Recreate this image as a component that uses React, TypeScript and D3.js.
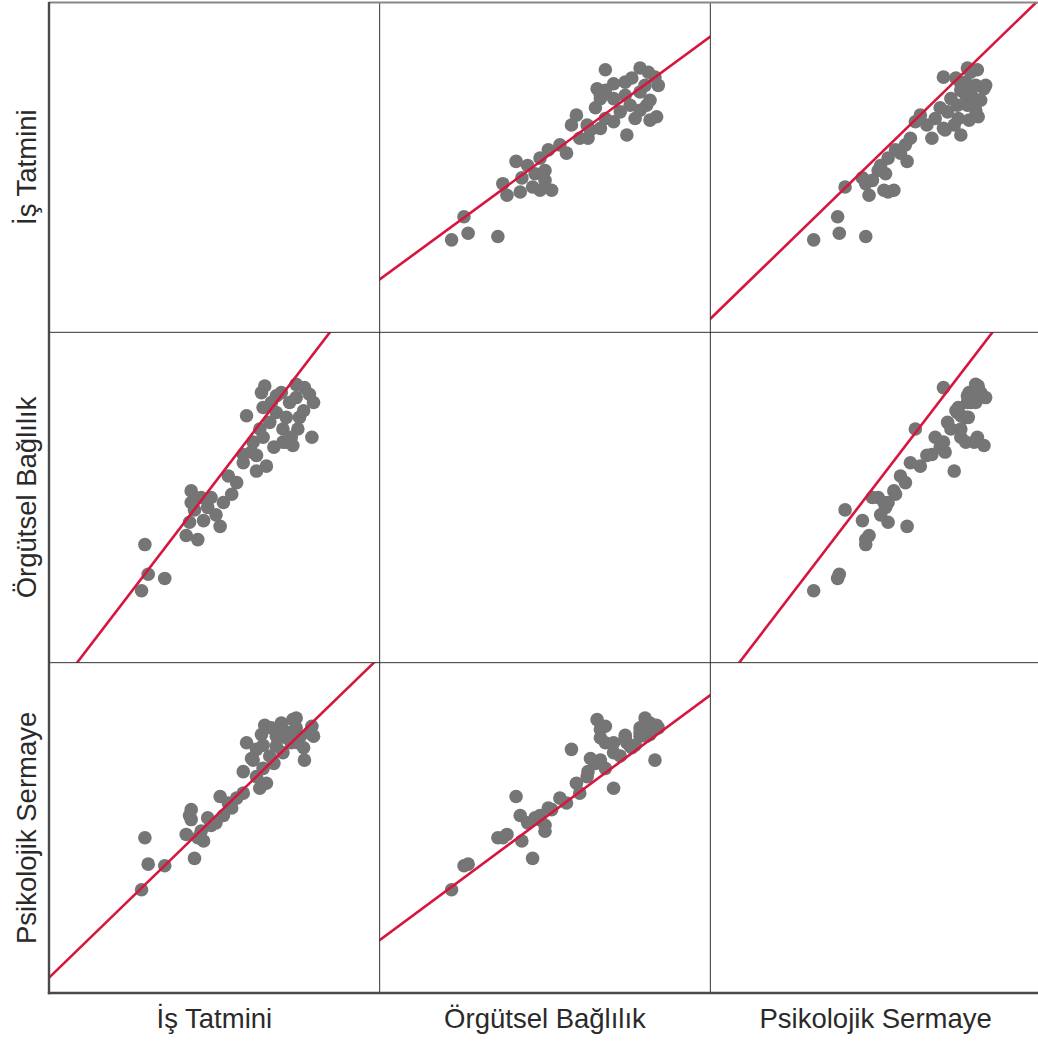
import React, { useEffect, useRef } from "react";
import * as d3 from "d3";

// Variables (one value per respondent, same order in every array)
const variables = ["İş Tatmini", "Örgütsel Bağlılık", "Psikolojik Sermaye"];

const isTatmini = [
  2.12, 2.2, 2.16, 2.4, 2.76, 2.8, 2.66, 2.72, 2.72, 2.92,
  3.07, 3.17, 3.21, 3.11, 3.35, 3.55, 3.51, 3.63, 3.35, 3.47,
  3.51, 3.39, 3.57, 3.61, 4.09, 4.2, 4.18, 3.95, 3.83, 3.75,
  3.67, 3.75, 4.01, 4.03, 3.99, 3.91, 3.83, 2.87, 2.7, 2.96,
  3.87, 4.08, 3.81, 3.93, 3.69, 4.15, 3.99, 3.59, 3.72, 3.02,
  2.84, 3.27, 3.45, 3.87, 3.59,
];
const orgutselBaglilik = [
  1.87, 2.07, 2.43, 2.02, 2.85, 2.49, 2.54, 2.94, 3.08, 2.88,
  2.65, 3.26, 3.04, 2.94, 3.42, 3.83, 3.51, 3.38, 3.52, 3.67,
  3.32, 3.99, 4.27, 4.35, 4.33, 4.15, 3.73, 3.63, 3.67, 4.03,
  3.91, 4.23, 3.83, 3.97, 4.37, 4.15, 3.83, 2.72, 2.7, 3.0,
  3.97, 4.05, 4.27, 3.73, 4.15, 4.25, 4.21, 3.73, 3.61, 2.79,
  3.0, 3.18, 3.55, 3.67, 4.09,
];
const psikolojikSermaye = [
  2.25, 2.56, 2.88, 2.54, 2.63, 2.88, 2.92, 3.1, 3.22, 3.12,
  3.38, 3.3, 3.24, 3.15, 3.42, 3.48, 3.62, 3.54, 3.68, 3.82,
  3.95, 4.03, 4.13, 4.24, 3.82, 4.11, 4.23, 4.31, 4.19, 3.99,
  3.87, 4.11, 4.03, 4.09, 4.21, 4.15, 3.91, 2.84, 3.15, 3.03,
  4.12, 3.97, 4.27, 4.03, 4.21, 4.15, 4.33, 3.72, 3.78, 3.06,
  2.96, 3.36, 3.84, 4.09, 4.0,
];
const series = [isTatmini, orgutselBaglilik, psikolojikSermaye];

// Fit lines as drawn in the picture: rowVar (y) on colVar (x)
const fitRowVar = [0, 0, 1, 1, 2, 2];
const fitColVar = [1, 2, 0, 2, 0, 1];
const fitIntercept = [0.905, 0.192, -0.752, -0.762, 0.213, 0.898];
const fitSlope = [0.735, 0.972, 1.308, 1.306, 0.971, 0.742];

const axisDomain: [number, number] = [1, 5];

export default function App() {
  const ref = useRef<SVGSVGElement | null>(null);

  useEffect(() => {
    const W = 1038;
    const H = 1044;
    const x0 = 49;
    const y0 = 2;
    const cw = 330.67;
    const ch = 330.33;
    const n = variables.length;

    const svg = d3.select(ref.current);
    svg.selectAll("*").remove();
    svg.attr("width", W).attr("height", H);

    svg.append("rect").attr("width", W).attr("height", H).attr("fill", "#fff");

    const defs = svg.append("defs");
    const font = "'Liberation Sans', Arial, sans-serif";

    const colX = (c: number) => x0 + c * cw;
    const rowY = (r: number) => y0 + r * ch;

    for (let r = 0; r < n; r++) {
      for (let c = 0; c < n; c++) {
        const xs = d3.scaleLinear().domain(axisDomain).range([colX(c), colX(c + 1)]);
        const ys = d3.scaleLinear().domain(axisDomain).range([rowY(r + 1), rowY(r)]);
        const id = `clip-${r}-${c}`;
        defs
          .append("clipPath")
          .attr("id", id)
          .append("rect")
          .attr("x", colX(c))
          .attr("y", rowY(r))
          .attr("width", cw)
          .attr("height", ch);
        const g = svg.append("g").attr("clip-path", `url(#${id})`);
        if (r === c) continue;
        const xv = series[c];
        const yv = series[r];
        g.selectAll("circle")
          .data(d3.range(xv.length))
          .join("circle")
          .attr("cx", (i) => xs(xv[i]))
          .attr("cy", (i) => ys(yv[i]))
          .attr("r", 6.8)
          .attr("fill", "#757575");

        const k = d3.range(fitRowVar.length).find((i) => fitRowVar[i] === r && fitColVar[i] === c)!;
        const a = fitIntercept[k];
        const b = fitSlope[k];
        const line = d3
          .line<number>()
          .x((v) => xs(v))
          .y((v) => ys(a + b * v));
        g.append("path")
          .attr("d", line([0, 6]))
          .attr("stroke", "#d6163f")
          .attr("stroke-width", 2.6)
          .attr("fill", "none");
      }
    }

    // grid lines
    const grid = svg.append("g");
    for (let i = 1; i < n; i++) {
      grid
        .append("line")
        .attr("x1", colX(i))
        .attr("x2", colX(i))
        .attr("y1", y0)
        .attr("y2", rowY(n))
        .attr("stroke", "#333")
        .attr("stroke-width", 1);
      grid
        .append("line")
        .attr("x1", x0)
        .attr("x2", colX(n))
        .attr("y1", rowY(i))
        .attr("y2", rowY(i))
        .attr("stroke", "#333")
        .attr("stroke-width", 1);
    }
    grid
      .append("line")
      .attr("x1", x0)
      .attr("x2", colX(n))
      .attr("y1", y0 + 0.5)
      .attr("y2", y0 + 0.5)
      .attr("stroke", "#888")
      .attr("stroke-width", 2);
    grid
      .append("line")
      .attr("x1", x0)
      .attr("x2", x0)
      .attr("y1", y0)
      .attr("y2", rowY(n) + 1.2)
      .attr("stroke", "#4a4a4a")
      .attr("stroke-width", 2.4);
    grid
      .append("line")
      .attr("x1", x0 - 1.2)
      .attr("x2", colX(n))
      .attr("y1", rowY(n))
      .attr("y2", rowY(n))
      .attr("stroke", "#4a4a4a")
      .attr("stroke-width", 2.4);

    // labels
    for (let i = 0; i < n; i++) {
      svg
        .append("text")
        .attr("x", colX(i) + cw / 2)
        .attr("y", 1028)
        .attr("text-anchor", "middle")
        .attr("font-family", font)
        .attr("font-size", 27.5)
        .attr("fill", "#2a2a2a")
        .text(variables[i]);
      const cy = rowY(i) + ch / 2;
      svg
        .append("text")
        .attr("transform", `translate(36,${cy}) rotate(-90)`)
        .attr("text-anchor", "middle")
        .attr("font-family", font)
        .attr("font-size", 27.5)
        .attr("fill", "#2a2a2a")
        .text(variables[i]);
    }
  }, []);

  return (
    <svg
      ref={ref}
      style={{ position: "absolute", left: 0, top: 0, display: "block" }}
    />
  );
}
